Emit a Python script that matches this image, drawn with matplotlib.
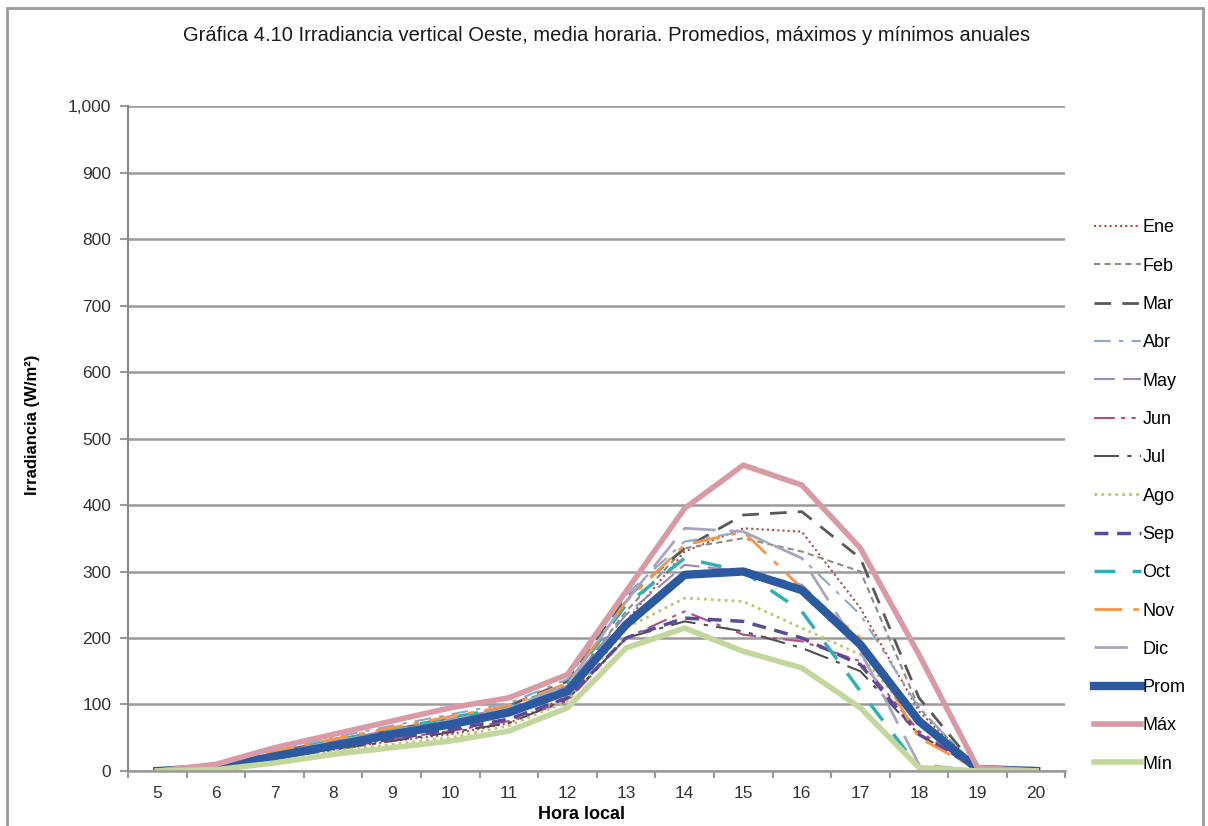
import matplotlib
matplotlib.use("Agg")
import matplotlib.pyplot as plt
from matplotlib.patches import Rectangle
from matplotlib.ticker import FuncFormatter
import numpy as np

plt.rcParams['font.family'] = ['Liberation Sans', 'DejaVu Sans']

# ============ data ============
hours = [5, 6, 7, 8, 9, 10, 11, 12, 13, 14, 15, 16, 17, 18, 19, 20]

ene = [0, 3, 18, 32, 45, 55, 72, 112, 225, 330, 365, 360, 245, 90, 2, 0]
feb = [0, 4, 22, 38, 52, 66, 85, 125, 240, 335, 350, 330, 300, 95, 2, 0]
mar = [0, 6, 28, 46, 62, 78, 98, 135, 260, 335, 385, 390, 320, 110, 3, 0]
abr = [0, 8, 30, 50, 68, 85, 102, 138, 265, 345, 360, 320, 235, 95, 3, 0]
may = [0, 7, 27, 45, 62, 78, 95, 128, 235, 310, 300, 280, 195, 80, 3, 0]
jun = [0, 5, 20, 35, 48, 60, 75, 105, 200, 240, 205, 195, 165, 60, 3, 0]
jul = [0, 4, 18, 32, 45, 58, 72, 108, 200, 225, 210, 185, 150, 55, 3, 0]
ago = [0, 3, 16, 30, 40, 50, 68, 105, 215, 260, 255, 215, 175, 70, 3, 0]
sep = [0, 5, 20, 35, 48, 62, 78, 110, 200, 230, 225, 200, 160, 55, 3, 0]
octu = [0, 7, 28, 45, 62, 80, 96, 130, 250, 320, 300, 240, 120, 5, 0, 0]
nov = [0, 8, 30, 48, 65, 82, 98, 132, 255, 340, 360, 275, 200, 50, 2, 0]
dic = [0, 6, 26, 44, 60, 76, 94, 130, 255, 365, 360, 320, 180, 10, 0, 0]
prom = [0, 5, 22, 38, 55, 70, 88, 120, 220, 295, 300, 272, 190, 75, 3, 0]
maxi = [0, 10, 35, 55, 75, 95, 110, 145, 270, 395, 460, 430, 335, 175, 5, 0]
mini = [0, 2, 12, 25, 35, 45, 60, 95, 185, 215, 180, 155, 95, 5, 0, 0]

names = ['Ene', 'Feb', 'Mar', 'Abr', 'May', 'Jun', 'Jul', 'Ago', 'Sep', 'Oct',
         'Nov', 'Dic', 'Prom', 'Máx', 'Mín']
series = [ene, feb, mar, abr, may, jun, jul, ago, sep, octu, nov, dic, prom, maxi, mini]

# (color, linestyle, linewidth)
styles = [
    ('#b04a48', (0, (1, 1.5)), 1.5),
    ('#8c8c80', (0, (3, 2)), 1.5),
    ('#595959', (0, (6, 4)), 2),
    ('#8ea9c8', (0, (8, 4, 2, 4)), 1.5),
    ('#9a86b8', (0, (10, 4)), 1.5),
    ('#b0508a', (0, (10, 3, 2, 3, 2, 3)), 1.5),
    ('#4f4f4f', (0, (12, 4, 2, 4)), 1.5),
    ('#c4c46a', (0, (1, 1.5)), 2),
    ('#5b4a9a', (0, (4, 2.5)), 2.5),
    ('#30b0b0', (0, (6, 5)), 2.5),
    ('#f79646', (0, (10, 4, 2, 4)), 2),
    ('#a6a6c0', (0, (12, 5)), 2),
    ('#2c5aa0', '-', 6),
    ('#d99aa6', '-', 4),
    ('#c3d69b', '-', 4),
]

# ============ figure ============
fig = plt.figure(figsize=(12.08, 8.26), dpi=100)
ax = fig.add_axes([0.106, 0.0666, 0.776, 0.805])

for name, vals, (c, ls, lw) in zip(names, series, styles):
    ax.plot(hours, vals, color=c, linestyle=ls, linewidth=lw, label=name,
            solid_joinstyle='round')

ax.set_xlim(4.5, 20.5)
ax.set_ylim(0, 1000)
ax.set_yticks(np.arange(0, 1001, 100))
ax.yaxis.set_major_formatter(FuncFormatter(lambda v, p: '{:,.0f}'.format(v)))
ax.grid(axis='y', color='#9a9a9a', linewidth=1.8)
ax.set_axisbelow(True)

ax.set_xticks(hours)
ax.set_xticks(np.arange(4.5, 20.6, 1), minor=True)
ax.tick_params(axis='x', which='major', length=0, labelsize=12.5, pad=11,
               labelcolor='#333333')
ax.tick_params(axis='x', which='minor', length=5, color='#9a9a9a', width=1.5)
ax.tick_params(axis='y', length=6, color='#9a9a9a', width=1.5, labelsize=12.5,
               pad=6, labelcolor='#333333')

for s in ['top', 'right']:
    ax.spines[s].set_visible(False)
ax.spines['left'].set_color('#8a8a8a')
ax.spines['left'].set_linewidth(1.5)
ax.spines['bottom'].set_color('#9a9a9a')
ax.spines['bottom'].set_linewidth(1.8)

ax.set_xlabel('Hora local', fontsize=13, fontweight='bold')
ax.xaxis.set_label_coords(0.484, -0.052)
ax.set_ylabel('Irradiancia (W/m²)', fontsize=12, fontweight='bold')
ax.yaxis.set_label_coords(-0.094, 0.52)

fig.text(0.502, 0.957, 'Gráfica 4.10 Irradiancia vertical Oeste, media horaria. '
         'Promedios, máximos y mínimos anuales', ha='center', va='center',
         fontsize=14.5, color='#1a1a1a')

fig.legend(loc='upper left', bbox_to_anchor=(0.892, 0.754), frameon=False,
           fontsize=13, handlelength=2.6, handletextpad=0.1,
           labelspacing=1.18)

# outer frame
fig.patches.append(Rectangle((0.006, -0.01), 0.99, 1.0, transform=fig.transFigure,
                             fill=False, edgecolor='#9a9a9a', linewidth=2))

fig.savefig('out.png', dpi=100)
